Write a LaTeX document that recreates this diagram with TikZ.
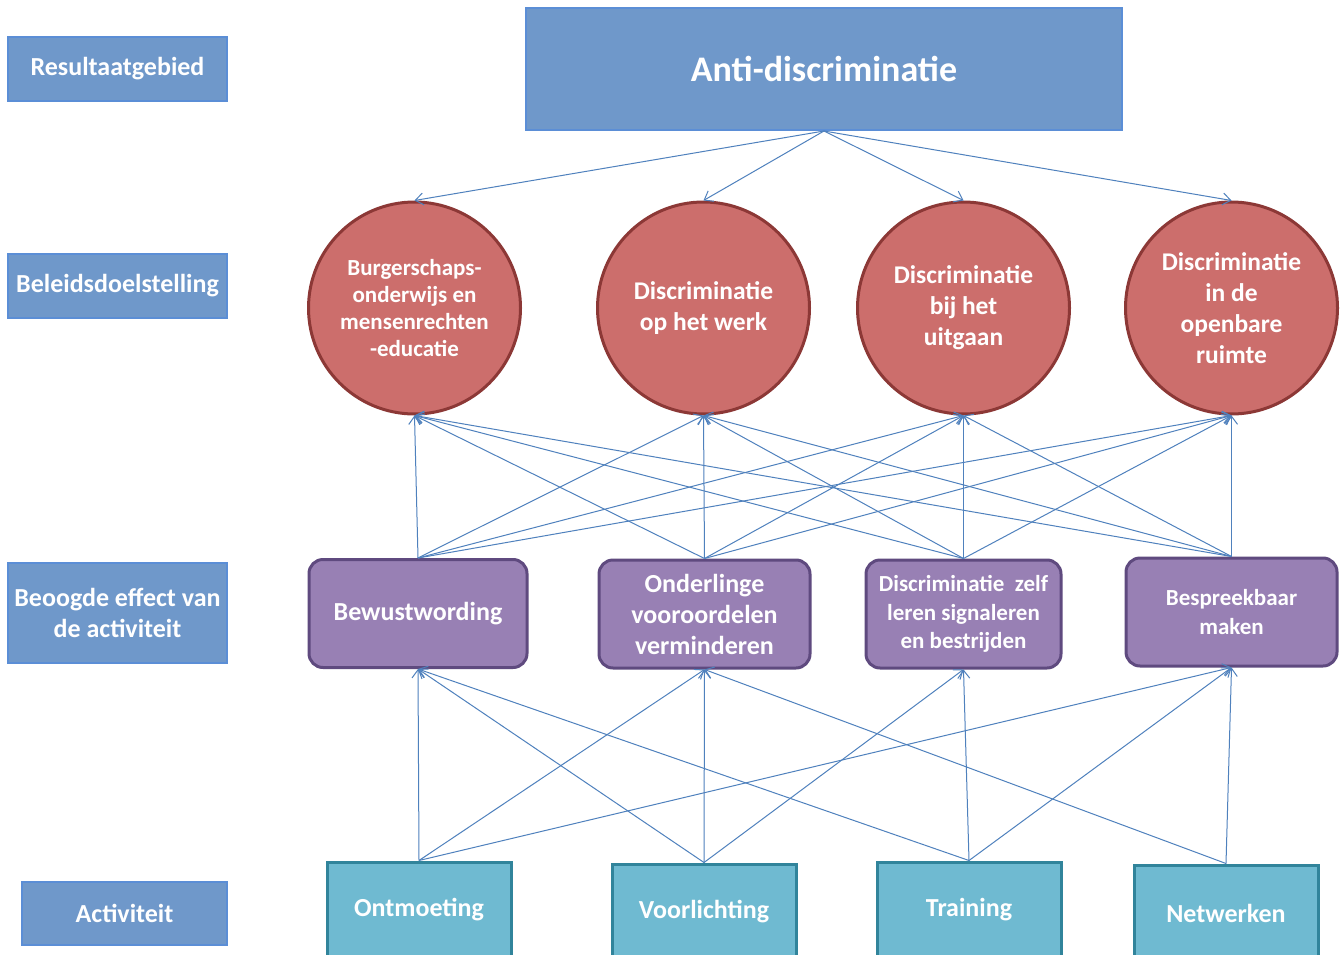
\documentclass[tikz,border=0pt]{standalone}
\usepackage{fontspec}
\setmainfont{Carlito}
\usetikzlibrary{arrows.meta}
\definecolor{lblfill}{HTML}{6F98CA}
\definecolor{lbldraw}{HTML}{5B8ED6}
\definecolor{redfill}{HTML}{CC6E6C}
\definecolor{reddraw}{HTML}{8C3836}
\definecolor{purfill}{HTML}{9880B4}
\definecolor{purdraw}{HTML}{5F4A7F}
\definecolor{tealfill}{HTML}{6FBAD1}
\definecolor{tealdraw}{HTML}{31849B}
\definecolor{arr}{HTML}{4F81BD}
\begin{document}
\begin{tikzpicture}[x=1pt,y=-1pt,
  lbl/.style={rectangle, fill=lblfill, draw=lbldraw, line width=2pt, text=white,
    font=\bfseries\fontsize{26}{31}\selectfont, align=center, inner sep=0pt},
  goal/.style={circle, fill=redfill, draw=reddraw, line width=3pt, text=white,
    minimum size=212pt, inner sep=0pt, align=center,
    font=\bfseries\fontsize{25.5}{31}\selectfont},
  effect/.style={rectangle, rounded corners=14pt, fill=purfill, draw=purdraw, line width=3pt,
    text=white, align=center, inner sep=0pt, minimum height=108pt,
    font=\bfseries\fontsize{26}{31}\selectfont},
  act/.style={rectangle, fill=tealfill, draw=tealdraw, line width=3pt, text=white,
    align=center, inner sep=0pt, minimum width=184pt, minimum height=96pt,
    font=\bfseries\fontsize{26}{30}\selectfont},
  link/.style={draw=arr, line width=1pt, -{Straight Barb[length=8pt,width=12pt]}}
]
\useasboundingbox (0,0) rectangle (1343,955);
\clip (0,0) rectangle (1343,955);
\fill[white] (0,0) rectangle (1343,955);

% left labels
\node[lbl, minimum width=219pt, minimum height=64pt] (l1) at (117.5,69) {Resultaatgebied};
\node[lbl, minimum width=219pt, minimum height=64pt] (l2) at (117.5,286) {Beleidsdoelstelling};
\node[lbl, minimum width=219pt, minimum height=100pt] (l3) at (117.5,613) {Beoogde effect van\\de activiteit};
\node[lbl, minimum width=205pt, minimum height=63pt] (l4) at (124.5,913.5) {Activiteit};

% top
\node[lbl, minimum width=596pt, minimum height=122pt, font=\bfseries\fontsize{36}{40}\selectfont] (anti) at (824,69) {Anti-discriminatie};

% goals
\node[goal, font=\bfseries\fontsize{23}{27}\selectfont] (c1) at (414.5,308) {Burgerschaps-\\onderwijs en\\mensenrechten\\-educatie};
\node[goal] (c2) at (703.5,308) {Discriminatie\\op het werk};
\node[goal] (c3) at (963.5,308) {Discriminatie\\bij het\\uitgaan};
\node[goal] (c4) at (1231.5,308) {Discriminatie\\in de\\openbare\\ruimte};

% effects
\node[effect, minimum width=218pt] (p1) at (418,613.5) {Bewustwording};
\node[effect, minimum width=211pt] (p2) at (704.5,614) {Onderlinge\\vooroordelen\\verminderen};
\node[effect, minimum width=195pt, font=\bfseries\fontsize{23}{28.5}\selectfont] (p3) at (963.5,614) {Discriminatie~ zelf\\leren signaleren\\en bestrijden};
\node[effect, minimum width=211pt, font=\bfseries\fontsize{23}{29}\selectfont] (p4) at (1231.5,612) {Bespreekbaar\\maken};

% activities
\node[act] (a1) at (419,910) {Ontmoeting};
\node[act] (a2) at (704,912) {Voorlichting};
\node[act] (a3) at (969,910) {Training};
\node[act] (a4) at (1226,913) {Netwerken};

% connectors top
\foreach \c in {c1,c2,c3,c4} \draw[link] (anti.south) -- (\c.north);
% effects -> goals
\foreach \p in {p1,p2,p3,p4}
  \foreach \c in {c1,c2,c3,c4}
    \draw[link] (\p.north) -- (\c.south);
% activities -> effects
\draw[link] (a1.north) -- (p1.south);
\draw[link] (a1.north) -- (p2.south);
\draw[link] (a1.north) -- (p4.south);
\draw[link] (a2.north) -- (p1.south);
\draw[link] (a2.north) -- (p2.south);
\draw[link] (a2.north) -- (p3.south);
\draw[link] (a3.north) -- (p1.south);
\draw[link] (a3.north) -- (p3.south);
\draw[link] (a3.north) -- (p4.south);
\draw[link] (a4.north) -- (p2.south);
\draw[link] (a4.north) -- (p4.south);
\end{tikzpicture}
\end{document}
